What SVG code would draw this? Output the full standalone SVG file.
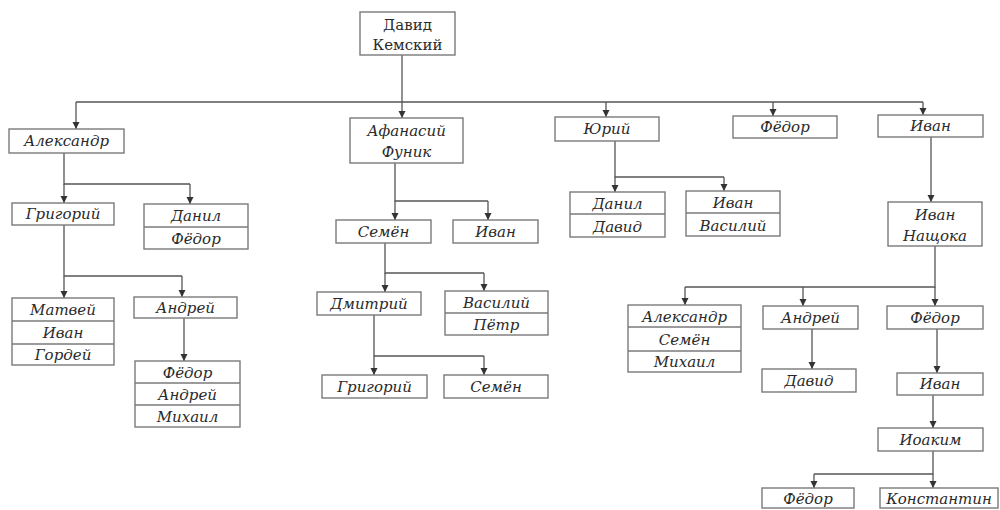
<svg xmlns="http://www.w3.org/2000/svg" width="1000" height="510" viewBox="0 0 1000 510" font-family="DejaVu Serif, Liberation Serif, serif">
<defs>
<marker id="arr" markerUnits="userSpaceOnUse" markerWidth="8" markerHeight="8" refX="7" refY="3.5" orient="auto">
<path d="M0,0 L7,3.5 L0,7 z" fill="#333"/>
</marker>
<style>
rect{fill:#fff;stroke:#7a7a7a;stroke-width:1.4}
.d{stroke:#7a7a7a;stroke-width:1.4}
text{font-size:15px;font-style:italic;fill:#2a2a2a;text-anchor:middle}
text.up{font-style:normal}
#connectors path{fill:none;stroke:#555;stroke-width:1.3}
#connectors path.a{marker-end:url(#arr)}
</style>
</defs>
<rect x="0" y="0" width="1000" height="510" style="fill:#fff;stroke:none"/>
<g id="connectors">
<path class="a" d="M402,55 V118"/>
<path d="M76,102 H923"/>
<path class="a" d="M76,102 V129"/>
<path class="a" d="M606,102 V117"/>
<path class="a" d="M773,102 V116"/>
<path class="a" d="M923,102 V115"/>
<path d="M64,153 V184 H190"/>
<path class="a" d="M64,184 V203"/>
<path class="a" d="M190,184 V204"/>
<path d="M64,225 V276 H182"/>
<path class="a" d="M64,276 V298"/>
<path class="a" d="M182,276 V297"/>
<path class="a" d="M184,318 V361"/>
<path d="M395,163 V201 H488"/>
<path class="a" d="M395,201 V220"/>
<path class="a" d="M488,201 V220"/>
<path d="M385,243 V273 H484"/>
<path class="a" d="M385,273 V292"/>
<path class="a" d="M484,273 V291"/>
<path d="M374,315 V356 H484"/>
<path class="a" d="M374,356 V375"/>
<path class="a" d="M484,356 V375"/>
<path d="M615,141 V177 H724"/>
<path class="a" d="M615,177 V192"/>
<path class="a" d="M724,177 V191"/>
<path class="a" d="M931,137 V202"/>
<path d="M935,246 V287 H685"/>
<path class="a" d="M685,287 V305"/>
<path class="a" d="M803,287 V306"/>
<path class="a" d="M935,287 V306"/>
<path class="a" d="M812,329 V369"/>
<path class="a" d="M937,329 V373"/>
<path class="a" d="M933,395 V428"/>
<path d="M933,451 V474 H814"/>
<path class="a" d="M814,474 V488"/>
<path class="a" d="M933,474 V488"/>
</g>
<g id="n-david-kemsky"><rect x="360" y="12" width="95" height="43"/><text class="up" x="407.5" y="30">Давид</text><text class="up" x="407.5" y="50">Кемский</text></g>
<g id="n-aleksandr"><rect x="9" y="129" width="115" height="24"/><text x="66.5" y="146">Александр</text></g>
<g id="n-afanasiy"><rect x="350" y="118" width="113" height="45"/><text x="406.5" y="136">Афанасий</text><text x="406.5" y="157">Фуник</text></g>
<g id="n-yuriy"><rect x="555" y="117" width="104" height="24"/><text x="607" y="134">Юрий</text></g>
<g id="n-fedor1"><rect x="733" y="116" width="104" height="22"/><text x="785" y="132">Фёдор</text></g>
<g id="n-ivan1"><rect x="878" y="115" width="105" height="22"/><text x="930.5" y="131">Иван</text></g>
<g id="n-grigoriy1"><rect x="12" y="203" width="102" height="22"/><text x="63" y="219">Григорий</text></g>
<g id="n-daniil-fedor"><rect x="144" y="204" width="104" height="45"/><line class="d" x1="144" y1="227" x2="248" y2="227"/><text x="196" y="221">Данил</text><text x="196" y="244">Фёдор</text></g>
<g id="n-matvey-ivan-gordey"><rect x="12" y="298" width="102" height="67"/><line class="d" x1="12" y1="321" x2="114" y2="321"/><line class="d" x1="12" y1="344" x2="114" y2="344"/><text x="63" y="315">Матвей</text><text x="63" y="338">Иван</text><text x="63" y="360">Гордей</text></g>
<g id="n-andrey1"><rect x="134" y="297" width="103" height="21"/><text x="185.5" y="313">Андрей</text></g>
<g id="n-fedor-andrey-mikhail"><rect x="135" y="361" width="105" height="66"/><line class="d" x1="135" y1="383" x2="240" y2="383"/><line class="d" x1="135" y1="405" x2="240" y2="405"/><text x="187.5" y="378">Фёдор</text><text x="187.5" y="400">Андрей</text><text x="187.5" y="422">Михаил</text></g>
<g id="n-semen1"><rect x="336" y="220" width="95" height="23"/><text x="383.5" y="237">Семён</text></g>
<g id="n-ivan2"><rect x="453" y="220" width="85" height="23"/><text x="495.5" y="237">Иван</text></g>
<g id="n-dmitriy"><rect x="317" y="292" width="104" height="23"/><text x="369" y="309">Дмитрий</text></g>
<g id="n-vasiliy-petr"><rect x="445" y="291" width="103" height="44"/><line class="d" x1="445" y1="313" x2="548" y2="313"/><text x="496.5" y="308">Василий</text><text x="496.5" y="330">Пётр</text></g>
<g id="n-grigoriy2"><rect x="322" y="375" width="105" height="23"/><text x="374.5" y="392">Григорий</text></g>
<g id="n-semen2"><rect x="444" y="375" width="104" height="23"/><text x="496" y="392">Семён</text></g>
<g id="n-daniil-david"><rect x="570" y="192" width="95" height="45"/><line class="d" x1="570" y1="214" x2="665" y2="214"/><text x="617.5" y="209">Данил</text><text x="617.5" y="232">Давид</text></g>
<g id="n-ivan-vasiliy"><rect x="686" y="191" width="94" height="45"/><line class="d" x1="686" y1="213" x2="780" y2="213"/><text x="733" y="208">Иван</text><text x="733" y="231">Василий</text></g>
<g id="n-ivan-nashoka"><rect x="888" y="202" width="94" height="44"/><text x="935" y="220">Иван</text><text x="935" y="241">Нащока</text></g>
<g id="n-aleksandr-semen-mikhail"><rect x="628" y="305" width="113" height="67"/><line class="d" x1="628" y1="327" x2="741" y2="327"/><line class="d" x1="628" y1="351" x2="741" y2="351"/><text x="684.5" y="322">Александр</text><text x="684.5" y="345">Семён</text><text x="684.5" y="367">Михаил</text></g>
<g id="n-andrey2"><rect x="763" y="306" width="95" height="23"/><text x="810.5" y="323">Андрей</text></g>
<g id="n-fedor2"><rect x="887" y="306" width="96" height="23"/><text x="935" y="323">Фёдор</text></g>
<g id="n-david"><rect x="762" y="369" width="94" height="23"/><text x="809" y="386">Давид</text></g>
<g id="n-ivan3"><rect x="897" y="373" width="86" height="22"/><text x="940" y="389">Иван</text></g>
<g id="n-ioakim"><rect x="878" y="428" width="105" height="23"/><text x="930.5" y="445">Иоаким</text></g>
<g id="n-fedor3"><rect x="762" y="488" width="92" height="20"/><text x="808" y="504">Фёдор</text></g>
<g id="n-konstantin"><rect x="880" y="488" width="118" height="20"/><text x="939" y="504">Константин</text></g>
</svg>
